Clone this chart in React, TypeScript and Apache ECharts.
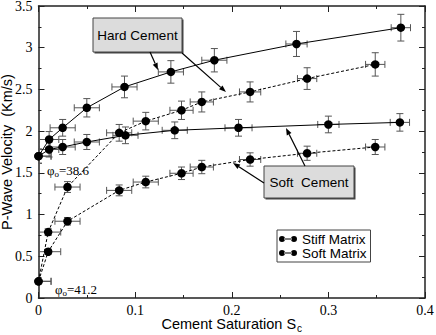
import React, { useEffect, useRef } from 'react';
import * as echarts from 'echarts';

// ---- data ----
const stiffHardX = [0, 0.011, 0.025, 0.05, 0.089, 0.137, 0.182, 0.267, 0.375];
const stiffHardY = [1.7, 1.9, 2.04, 2.28, 2.53, 2.71, 2.85, 3.045, 3.24];
const stiffHardXErr = [0.013, 0.01, 0.013, 0.013, 0.013, 0.013, 0.013, 0.011, 0.01];
const stiffHardYErr = [0.085, 0.095, 0.1, 0.11, 0.13, 0.135, 0.14, 0.15, 0.16];

const stiffSoftX = [0, 0.011, 0.025, 0.05, 0.09, 0.141, 0.207, 0.3, 0.374];
const stiffSoftY = [1.7, 1.78, 1.81, 1.87, 1.95, 2.01, 2.04, 2.08, 2.105];
const stiffSoftXErr = [0.013, 0.01, 0.013, 0.013, 0.013, 0.013, 0.014, 0.011, 0.01];
const stiffSoftYErr = [0.085, 0.09, 0.09, 0.09, 0.1, 0.1, 0.1, 0.1, 0.105];

const softMatX = [0, 0.01, 0.03, 0.0835, 0.111, 0.148, 0.169, 0.219, 0.278, 0.3485];
const softHardY = [0.2, 0.79, 1.33, 1.98, 2.12, 2.25, 2.35, 2.47, 2.63, 2.8];
const softHardYErr = [0.01, 0.04, 0.065, 0.1, 0.105, 0.11, 0.12, 0.12, 0.13, 0.14];
const softSoftY = [0.2, 0.555, 0.92, 1.29, 1.39, 1.495, 1.57, 1.66, 1.735, 1.81];
const softSoftYErr = [0.01, 0.03, 0.045, 0.065, 0.07, 0.075, 0.08, 0.08, 0.085, 0.09];
const softMatXErr = [0.013, 0.013, 0.013, 0.013, 0.013, 0.012, 0.012, 0.011, 0.01, 0.01];

const legendNames = ['Stiff Matrix', 'Soft Matrix'];
const xTicks = { min: 0, max: 0.4, interval: 0.1 };
const yTicks = { min: 0, max: 3.5, interval: 0.5 };

const SANS = '"Liberation Sans", Arial, Helvetica, sans-serif';
const SERIF = '"Liberation Serif", "Times New Roman", serif';

function pts(xs: number[], ys: number[]) {
  return xs.map((x, i) => [x, ys[i]]);
}
function errPts(xs: number[], ys: number[], xe: number[], ye: number[]) {
  return xs.map((x, i) => [x, ys[i], xe[i], ye[i]]);
}

function renderErr(params: any, api: any) {
  const x = api.value(0), y = api.value(1), xe = api.value(2), ye = api.value(3);
  const c = api.coord([x, y]);
  const l = api.coord([x - xe, y]);
  const r = api.coord([x + xe, y]);
  const t = api.coord([x, y + ye]);
  const b = api.coord([x, y - ye]);
  const cap = 3.5;
  const style = { stroke: '#555', lineWidth: 1, fill: null };
  const ln = (x1: number, y1: number, x2: number, y2: number) => ({
    type: 'line', shape: { x1, y1, x2, y2 }, style,
  });
  return {
    type: 'group',
    children: [
      ln(l[0], c[1], r[0], c[1]),
      ln(l[0], c[1] - cap, l[0], c[1] + cap),
      ln(r[0], c[1] - cap, r[0], c[1] + cap),
      ln(c[0], t[1], c[0], b[1]),
      ln(c[0] - cap, t[1], c[0] + cap, t[1]),
      ln(c[0] - cap, b[1], c[0] + cap, b[1]),
    ],
  };
}

function arrow(x1: number, y1: number, x2: number, y2: number) {
  const dx = x2 - x1, dy = y2 - y1;
  const len = Math.hypot(dx, dy);
  const ux = dx / len, uy = dy / len;
  const hl = 7, hw = 2.6;
  const bx = x2 - ux * hl, by = y2 - uy * hl;
  return [
    { type: 'line', shape: { x1, y1, x2: bx, y2: by }, style: { stroke: '#000', lineWidth: 1.2 }, z: 50 },
    {
      type: 'polygon',
      shape: { points: [[x2, y2], [bx - uy * hw, by + ux * hw], [bx + uy * hw, by - ux * hw]] },
      style: { fill: '#000' }, z: 50,
    },
  ];
}

function labelBox(x: number, y: number, w: number, h: number, text: string) {
  return [
    { type: 'rect', shape: { x: x + 1.5, y: y + 1.5, width: w, height: h }, style: { fill: '#444' }, z: 48 },
    { type: 'rect', shape: { x, y, width: w, height: h }, style: { fill: '#dcdcdc', stroke: '#444', lineWidth: 1 }, z: 49 },
    {
      type: 'text', x: x + w / 2, y: y + h / 2, z: 51,
      style: { text, fill: '#000', fontSize: 13.5, fontFamily: SANS, align: 'center', verticalAlign: 'middle' },
    },
  ];
}

function phiLabel(x: number, y: number, val: string) {
  return {
    type: 'text', x, y, z: 51,
    style: {
      text: '{p|φ}{s|o}{n|' + val + '}',
      align: 'left', verticalAlign: 'middle',
      rich: {
        p: { fontSize: 13, fontFamily: SERIF, fill: '#000' },
        s: { fontSize: 9, fontFamily: SERIF, fill: '#000', padding: [7, 0, 0, 0] },
        n: { fontSize: 13, fontFamily: SERIF, fill: '#000' },
      },
    },
  };
}

const axisLineStyle = { color: '#222', width: 1.5 };

function makeX(position: 'bottom' | 'top', labels: boolean) {
  return {
    type: 'value', position, ...xTicks,
    axisLine: { show: true, onZero: false, lineStyle: axisLineStyle },
    axisTick: { show: true, inside: true, length: 6, lineStyle: { color: '#222' } },
    minorTick: { show: true, splitNumber: 2, length: 3, lineStyle: { color: '#222' } },
    splitLine: { show: false },
    axisLabel: {
      show: labels, color: '#000', fontSize: 14, fontFamily: SERIF, margin: 5,
      formatter: (v: number) => String(+v.toFixed(2)),
    },
    ...(labels
      ? {
          name: '{a|Cement Saturation S}{b|c}',
          nameLocation: 'middle',
          nameGap: 17,
          nameMoveOverlap: false,
          nameTextStyle: {
            rich: {
              a: { fontSize: 14.5, fontFamily: SANS, color: '#000' },
              b: { fontSize: 10, fontFamily: SANS, color: '#000', padding: [8, 0, 0, 1] },
            },
          },
        }
      : {}),
  };
}

function makeY(position: 'left' | 'right', labels: boolean) {
  return {
    type: 'value', position, ...yTicks,
    axisLine: { show: true, onZero: false, lineStyle: axisLineStyle },
    axisTick: { show: true, inside: true, length: 6, lineStyle: { color: '#222' } },
    minorTick: { show: true, splitNumber: 2, length: 3, lineStyle: { color: '#222' } },
    splitLine: { show: false },
    axisLabel: {
      show: labels, color: '#000', fontSize: 14, fontFamily: SERIF, margin: 6,
      formatter: (v: number) => String(+v.toFixed(2)),
    },
    ...(labels
      ? {
          name: 'P-Wave Velocity  (Km/s)',
          nameLocation: 'middle',
          nameGap: 24,
          nameMoveOverlap: false,
          nameTextStyle: { fontSize: 14.5, fontFamily: SANS, color: '#000' },
        }
      : {}),
  };
}

function lineSeries(name: string, data: number[][], dashed: boolean) {
  return {
    type: 'line', name, data, z: 5, clip: false,
    symbol: 'circle', symbolSize: 8.5,
    itemStyle: { color: '#000' },
    lineStyle: { color: '#000', width: 1, type: dashed ? [3, 2] : 'solid' },
  };
}

function errSeries(data: number[][]) {
  return {
    type: 'custom', data, renderItem: renderErr, z: 3, clip: true,
    silent: true, encode: { x: 0, y: 1 },
  };
}

const legendIcon =
  'path://M0,3a3,3 0 1,0 6,0a3,3 0 1,0 -6,0zM5,2.4h8v1.2h-8zM12,3a3,3 0 1,0 6,0a3,3 0 1,0 -6,0z';

export default function App() {
  const ref = useRef<HTMLDivElement>(null);
  useEffect(() => {
    if (!ref.current) return;
    const chart = echarts.init(ref.current, undefined, { renderer: 'svg' });
    chart.setOption({
      animation: false,
      backgroundColor: '#fff',
      grid: { left: 38.5, right: 11, top: 6, bottom: 37, outerBoundsMode: 'none', containLabel: false },
      xAxis: [makeX('bottom', true), makeX('top', false)],
      yAxis: [makeY('left', true), makeY('right', false)],
      legend: {
        data: legendNames,
        orient: 'vertical',
        left: 277, top: 230,
        icon: legendIcon,
        itemWidth: 18, itemHeight: 6, itemGap: 0,
        padding: [2, 4, 2, 2],
        borderColor: '#444', borderWidth: 1, backgroundColor: '#fff',
        textStyle: { fontSize: 13.5, lineHeight: 12, fontFamily: SANS, color: '#000', padding: [0, 0, 0, 0] },
        selectedMode: false,
      },
      series: [
        errSeries(errPts(stiffHardX, stiffHardY, stiffHardXErr, stiffHardYErr)),
        errSeries(errPts(stiffSoftX, stiffSoftY, stiffSoftXErr, stiffSoftYErr)),
        errSeries(errPts(softMatX, softHardY, softMatXErr, softHardYErr)),
        errSeries(errPts(softMatX, softSoftY, softMatXErr, softSoftYErr)),
        lineSeries('Stiff Matrix', pts(stiffHardX, stiffHardY), false),
        lineSeries('Stiff Matrix', pts(stiffSoftX, stiffSoftY), false),
        lineSeries('Soft Matrix', pts(softMatX, softHardY), true),
        lineSeries('Soft Matrix', pts(softMatX, softSoftY), true),
      ],
      graphic: [
        ...labelBox(93, 18, 89, 34, 'Hard Cement'),
        ...labelBox(264, 166, 90, 32, 'Soft  Cement'),
        ...arrow(150, 52, 158, 70),
        ...arrow(182, 53, 226, 92),
        ...arrow(305, 166, 286, 128),
        ...arrow(264, 183, 233, 163),
        phiLabel(47, 170, '=38.6'),
        phiLabel(55, 289, '=41.2'),
      ],
    });
    return () => chart.dispose();
  }, []);
  return (
    <div
      ref={ref}
      style={{ position: 'absolute', left: 0, top: 0, width: 436, height: 335, background: '#fff' }}
    />
  );
}
